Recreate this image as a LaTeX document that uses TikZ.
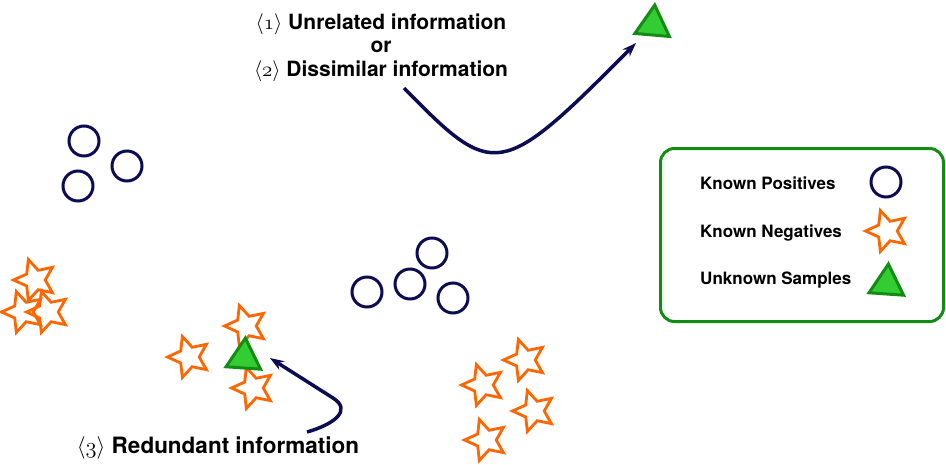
\RequirePackage{fix-cm}
\documentclass[tikz,border=0pt]{standalone}
\usepackage{fontspec}
\setsansfont{TeX Gyre Heros}
\usepackage{tikz}
\usetikzlibrary{arrows.meta}
\usetikzlibrary{shapes.geometric}
\definecolor{posblue}{RGB}{12,12,84}
\definecolor{negorange}{RGB}{255,102,0}
\definecolor{unkgreen}{RGB}{51,204,51}
\definecolor{unkdark}{RGB}{18,140,18}

\begin{document}
\begin{tikzpicture}[
x=1pt,y=-1pt,
PosCircle/.style={circle,draw=posblue,line width=3pt,minimum size=30pt,inner sep=0pt},
NegStar/.style={star,star points=5,star point ratio=2.1,draw=negorange,line width=2.8pt,minimum size=43pt,inner sep=0pt,shape border rotate=18},
UnkTri/.style={regular polygon,regular polygon sides=3,draw=unkdark,fill=unkgreen,line width=3pt,minimum size=40pt,inner sep=0pt},
InfoText/.style={font=\fontsize{21}{24}\selectfont\sffamily\bfseries,inner sep=0pt,anchor=base},
LegText/.style={font=\fontsize{17}{20}\selectfont\sffamily\bfseries,inner sep=0pt,anchor=base west},
LegendFrame/.style={draw=unkdark,line width=3pt,rounded corners=14pt,inner sep=0pt},
InfoArrow/.style={-{Stealth[length=14pt,width=10pt]},draw=posblue,line width=3.5pt}
]
%\draw[gray!30,step=50] (0,0) grid (946,464);
\useasboundingbox (0,0) rectangle (946,464);

% known positives
\node[PosCircle] (PosA) at (84,141) {};
\node[PosCircle] (PosB) at (127,166) {};
\node[PosCircle] (PosC) at (78,186) {};
\node[PosCircle] (PosD) at (432,253) {};
\node[PosCircle] (PosE) at (410,284) {};
\node[PosCircle] (PosF) at (367,292) {};
\node[PosCircle] (PosG) at (453,298) {};

% known negatives
\foreach \nx/\ny [count=\i] in {35/280, 23/312, 48/312, 189/357, 246/326, 253/388,
                                483/385, 525/360, 534/411, 486/440}
  \node[NegStar] (Neg\i) at (\nx,\ny) {};

% unknown samples
\node[UnkTri,shape border rotate=-5] (UnkTop) at (653,25) {};
\node[UnkTri,shape border rotate=-4] (UnkMid) at (244,358) {};

% labels
\node[InfoText] (InfoA) at (381,29) {$\langle\mathnormal{1}\rangle$ Unrelated information};
\node[InfoText] (InfoOr) at (381,52.5) {or};
\node[InfoText] (InfoB) at (381,76) {$\langle\mathnormal{2}\rangle$ Dissimilar information};
\node[InfoText,font=\fontsize{22.5}{26}\selectfont\sffamily\bfseries] (InfoC) at (218,453) {$\langle\mathnormal{3}\rangle$ Redundant information};

\coordinate (TailA) at (404,88);
\coordinate (TipA) at (636,43);
\coordinate (TailC) at (307,432);
\coordinate (TipC) at (270,358);

\draw[InfoArrow] (TailA) .. controls (494,180) and (500,180) .. (TipA);
\draw[InfoArrow] (TailC) .. controls (335,424) and (352,410) .. (333,398) -- (TipC);

% legend
\node[LegendFrame,minimum width=283pt,minimum height=173pt] (Legend) at (802,235) {};
\node[LegText] (LegPos) at (700,189) {Known Positives};
\node[LegText] (LegNeg) at (700,237) {Known Negatives};
\node[LegText] (LegUnk) at (700,284) {Unknown Samples};
\node[PosCircle] (LegPosMark) at (886,182) {};
\node[NegStar] (LegNegMark) at (887,231) {};
\node[UnkTri,shape border rotate=-4] (LegUnkMark) at (887,284) {};

\end{tikzpicture}
\end{document}
